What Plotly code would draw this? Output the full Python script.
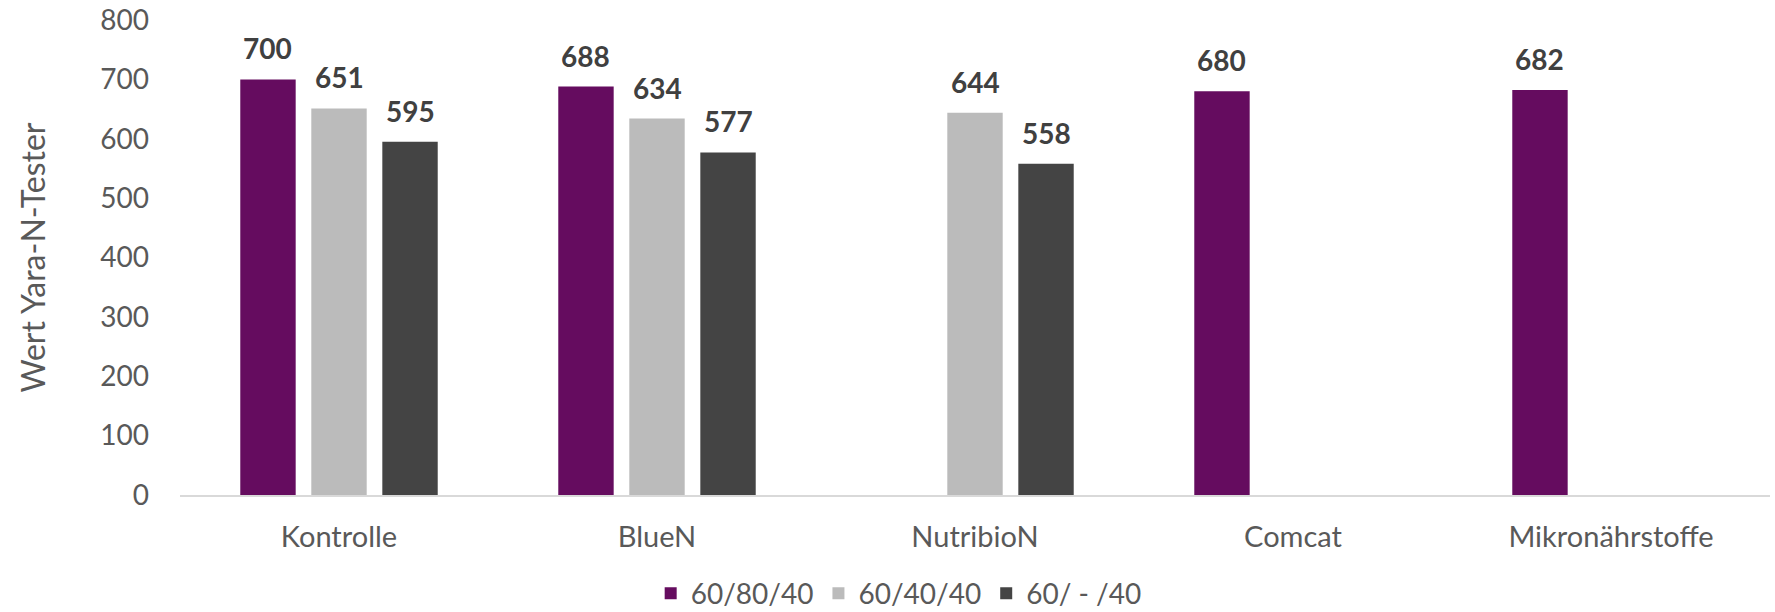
import plotly.graph_objects as go

categories = ["Kontrolle", "BlueN", "NutribioN", "Comcat", "Mikronährstoffe"]
series_names = ["60/80/40", "60/40/40", "60/ - /40"]
s1 = [700, 688, None, 680, 682]
s2 = [651, 634, 644, None, None]
s3 = [595, 577, 558, None, None]
y_ticks = [0, 100, 200, 300, 400, 500, 600, 700, 800]

colors = ["#650C5F", "#BBBBBB", "#444444"]
FONT = "Lato"

fig = go.Figure()
for name, vals, col in zip(series_names, [s1, s2, s3], colors):
    fig.add_bar(x=categories, y=vals, name=name, marker=dict(color=col, line=dict(width=0)))

W, H = 1775, 612
ml, mr, mt, mb = 180, 5, 20, 117
bargap = 0.33
slot_px = (W - ml - mr) / len(categories) * (1 - bargap) / 3
for i, vals in enumerate([s1, s2, s3]):
    for c, v in zip(categories, vals):
        if v is None:
            continue
        fig.add_annotation(x=c, y=v, xref="x", yref="y", text=f"<b>{v}</b>",
                           showarrow=False, xshift=(i - 1) * slot_px, yshift=31,
                           font=dict(family=FONT, size=28, color="#404040"))

fig.update_layout(
    width=W, height=H,
    margin=dict(l=ml, r=mr, t=mt, b=mb, autoexpand=False),
    paper_bgcolor="white", plot_bgcolor="white",
    barmode="group", bargap=bargap, bargroupgap=0.22,
    font=dict(family=FONT, color="#595959", size=28),
    showlegend=True,
    legend=dict(orientation="h", x=0.452, xanchor="center", y=-0.26, yanchor="bottom",
                font=dict(size=28, color="#595959"), itemwidth=30, traceorder="normal"),
)
fig.update_xaxes(showline=True, linecolor="#D9D9D9", linewidth=2, showgrid=False,
                 ticks="", tickfont=dict(size=29, color="#595959"), ticklabelstandoff=15,
                 automargin=False)
fig.update_yaxes(range=[0, 800], tickvals=y_ticks, showgrid=False, zeroline=False,
                 showline=False, tickfont=dict(size=28, color="#595959"),
                 ticklabelstandoff=30, ticklabeloverflow="allow", automargin=False,
                 title=dict(text="Wert Yara-N-Tester", font=dict(size=32, color="#595959"), standoff=45))

fig.write_html("out.html")
